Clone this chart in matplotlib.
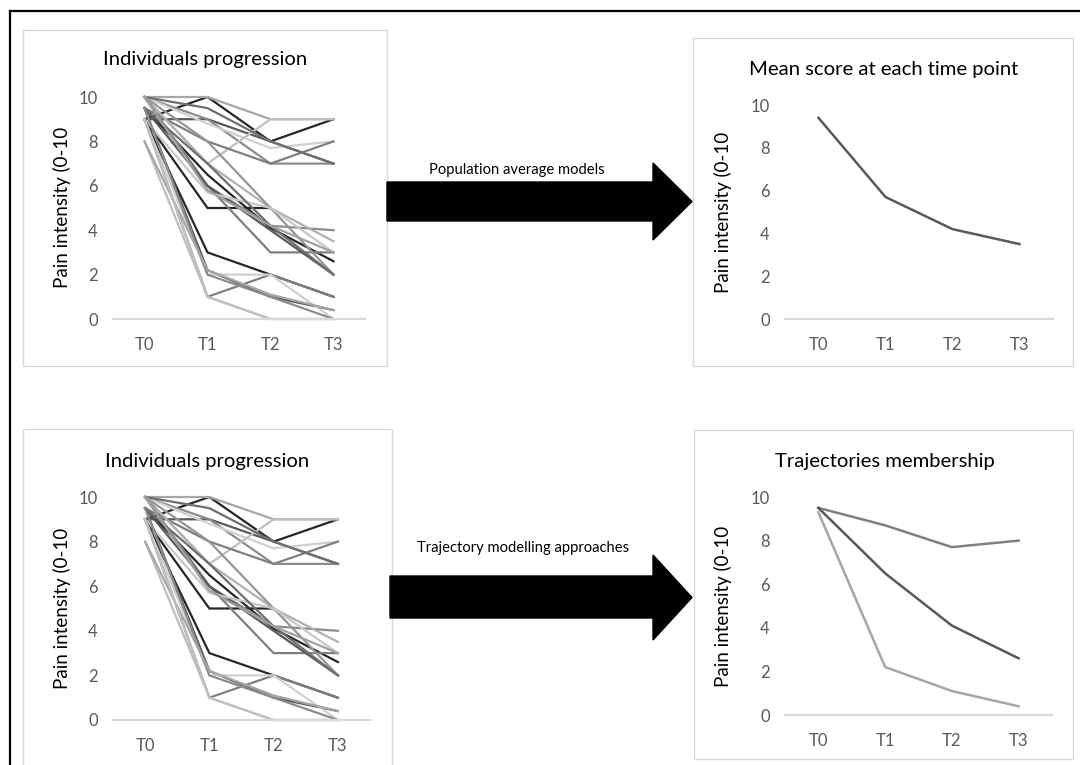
#!/usr/bin/env python3
# Individual pain trajectories vs. population average and trajectory groups.

import matplotlib
matplotlib.use("Agg")
import matplotlib.pyplot as plt
from matplotlib.patches import Rectangle, Polygon
from matplotlib.lines import Line2D
import numpy as np

plt.rcParams["font.family"] = ["Lato", "DejaVu Sans"]

W, H = 1080, 765

times = ["T0", "T1", "T2", "T3"]
yticks = [0, 2, 4, 6, 8, 10]

# individual patient scores (T0..T3), nan = missing
individuals = [
    [9, 10, 8, 9],
    [10, 10, 9, 9],
    [9, 9, 8, 7],
    [10, 9, 7, 7],
    [10, 8.8, 7.7, 8],
    [10, 7, 9, 9],
    [9.5, 8, 7, 8],
    [10, 9.5, 8, 7],
    [9.5, 6.5, 4.1, 2.6],
    [9, 5, 5, np.nan],
    [10, 6, 4.2, 4],
    [10, 7, 5, 3.5],
    [10, 6, 3, 3],
    [9.5, 6, 4, 2],
    [10, 8, 5, 2],
    [9, 5.7, 5, 3],
    [9.5, 7, 4.2, 2],
    [9, 3, 2, 1],
    [9.5, 2.2, 1, 0.4],
    [9, 1, 2, 1],
    [8, 1, 0, 0],
    [9, 2, 2, 0],
    [9.5, 2, 1, 0],
    [8, 2.2, 1.1, 0.4],
    [9, 1, 0, 0],
    [10, 5.8, 4.2, 3],
]
ind_colors = [
    "#262626", "#a6a6a6", "#595959", "#8c8c8c", "#d0d0d0", "#bfbfbf",
    "#7f7f7f", "#6e6e6e", "#262626", "#262626", "#8c8c8c", "#b0b0b0",
    "#7f7f7f", "#595959", "#969696", "#c8c8c8", "#6e6e6e", "#262626",
    "#595959", "#7f7f7f", "#bfbfbf", "#d0d0d0", "#8c8c8c", "#a6a6a6",
    "#c0c0c0", "#a0a0a0",
]

mean_score = [9.4, 5.7, 4.2, 3.5]

traj_high = [9.5, 8.7, 7.7, 8.0]
traj_mid = [9.5, 6.5, 4.1, 2.6]
traj_low = [9.3, 2.2, 1.1, 0.4]


def box(x0, y0, x1, y1):
    # pixel box (top-left origin) -> figure fraction rect
    return [x0 / W, 1 - y1 / H, (x1 - x0) / W, (y1 - y0) / H]


def fx(x):
    return x / W


def fy(y):
    return 1 - y / H


def style_ax(ax):
    for s in ["top", "right", "left"]:
        ax.spines[s].set_visible(False)
    ax.spines["bottom"].set_color("#d9d9d9")
    ax.spines["bottom"].set_linewidth(1.6)
    ax.set_xlim(-0.5, 3.5)
    ax.set_ylim(0, 10)
    ax.set_xticks(range(len(times)))
    ax.set_xticklabels(times)
    ax.set_yticks(yticks)
    ax.tick_params(length=0, labelsize=12, colors="#595959")
    ax.tick_params(axis="x", pad=13)
    ax.tick_params(axis="y", pad=11)
    ax.patch.set_alpha(0)


fig = plt.figure(figsize=(W / 100, H / 100), dpi=100)

# outer frame
fig.add_artist(Line2D([fx(10), fx(10)], [fy(11), fy(770)], color="black", lw=1.6))
fig.add_artist(Line2D([fx(10), fx(1082)], [fy(11), fy(11)], color="black", lw=1.6))

# panel frames
for b in [(23, 30, 387, 366), (693, 38, 1073, 366), (23, 429, 392, 775), (694, 430, 1073, 759)]:
    r = box(*b)
    fig.add_artist(Rectangle((r[0], r[1]), r[2], r[3], transform=fig.transFigure,
                             fill=False, edgecolor="#d9d9d9", lw=1.0))

x = np.arange(len(times))
TITLE_FS = 14.6
YLAB_FS = 13.5

# individual panels
for axbox, title_xy, ylab_xy in [
    ((113, 97, 365, 319), (205, 60), (62, 207)),
    ((113, 497, 370, 720), (207, 461), (62, 608)),
]:
    ax = fig.add_axes(box(*axbox))
    style_ax(ax)
    for vals, c in zip(individuals, ind_colors):
        ax.plot(x, vals, color=c, lw=1.6, clip_on=False)
    fig.text(fx(title_xy[0]), fy(title_xy[1]), "Individuals progression",
             ha="center", va="center", fontsize=TITLE_FS)
    fig.text(fx(ylab_xy[0]), fy(ylab_xy[1]), "Pain intensity (0-10",
             ha="center", va="center", rotation=90, fontsize=YLAB_FS)

# mean panel
ax = fig.add_axes(box(785, 105, 1053, 319))
style_ax(ax)
ax.plot(x, mean_score, color="#595959", lw=1.8, clip_on=False)
fig.text(fx(884), fy(69), "Mean score at each time point", ha="center", va="center", fontsize=TITLE_FS)
fig.text(fx(723), fy(212), "Pain intensity (0-10", ha="center", va="center", rotation=90, fontsize=YLAB_FS)

# trajectory panel
ax = fig.add_axes(box(785, 497, 1052, 715))
style_ax(ax)
ax.plot(x, traj_high, color="#808080", lw=1.8, clip_on=False)
ax.plot(x, traj_mid, color="#595959", lw=1.8, clip_on=False)
ax.plot(x, traj_low, color="#a6a6a6", lw=1.8, clip_on=False)
fig.text(fx(885), fy(461), "Trajectories membership", ha="center", va="center", fontsize=TITLE_FS)
fig.text(fx(723), fy(606), "Pain intensity (0-10", ha="center", va="center", rotation=90, fontsize=YLAB_FS)

# arrows
for (x0, xb, xt, s0, s1, h0, h1, label, lx, ly) in [
    (387, 653, 692, 182, 221, 163, 240, "Population average models", 517, 170),
    (390, 653, 692, 576, 618, 555, 640, "Trajectory modelling approaches", 523, 548),
]:
    mid = (h0 + h1) / 2
    pts = [(x0, s0), (xb, s0), (xb, h0), (xt, mid), (xb, h1), (xb, s1), (x0, s1)]
    fig.add_artist(Polygon([(fx(a), fy(b)) for a, b in pts], closed=True,
                           transform=fig.transFigure, facecolor="black", edgecolor="black"))
    fig.text(fx(lx), fy(ly), label, ha="center", va="center", fontsize=10.6)

fig.savefig("out.png", dpi=100)
